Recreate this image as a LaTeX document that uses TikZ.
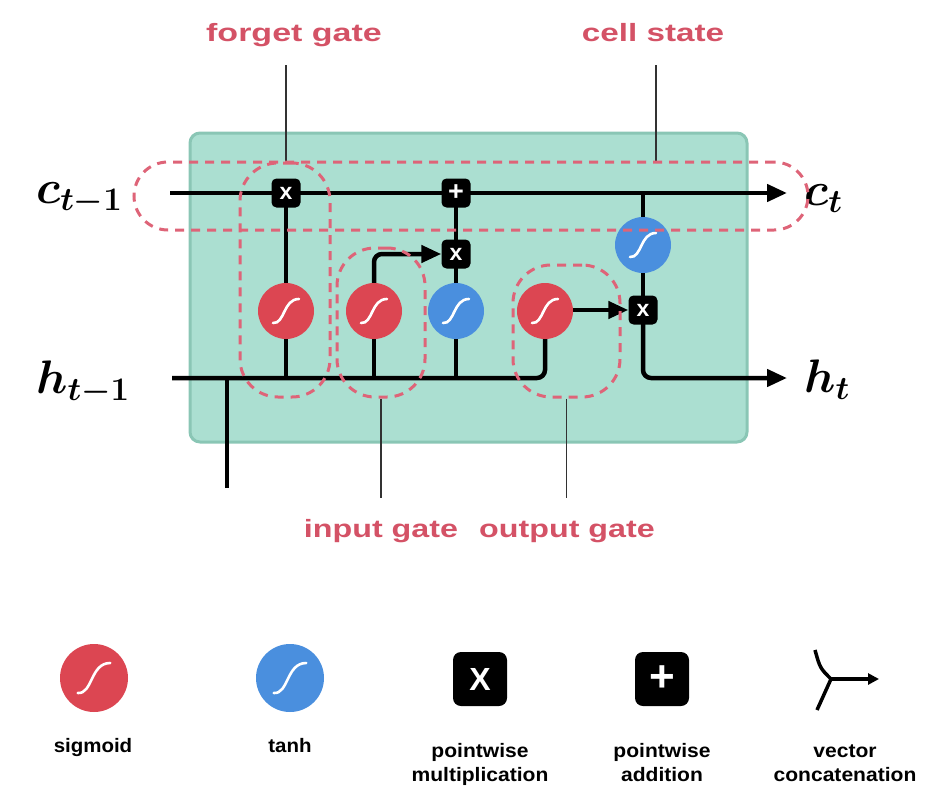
\RequirePackage{fix-cm}
\documentclass[tikz,border=0pt]{standalone}
\usepackage{fontspec}
\usepackage{bm}
\newfontfamily\labfont{Liberation Sans}
\usetikzlibrary{arrows.meta}
\definecolor{lstmfill}{RGB}{171,223,209}
\definecolor{lstmedge}{RGB}{138,198,181}
\definecolor{sigred}{RGB}{220,70,82}
\definecolor{tanblue}{RGB}{74,143,222}
\definecolor{gatered}{RGB}{222,100,120}
\definecolor{labred}{RGB}{212,82,102}
\definecolor{lblgray}{RGB}{50,50,50}
\pgfdeclarelayer{back}
\pgfdeclarelayer{wires}
\pgfdeclarelayer{top}
\pgfsetlayers{back,wires,main,top}
\begin{document}
\begin{tikzpicture}[x=1pt,y=-1pt,
  wire/.style={line width=4.5pt,black},
  arr/.style={-{Triangle[length=20pt,width=17pt]}},
  sig/.style={circle,fill=sigred,minimum size=56pt,inner sep=0pt},
  tnh/.style={circle,fill=tanblue,minimum size=56pt,inner sep=0pt},
  opbox/.style={rectangle,rounded corners=5pt,fill=black,minimum size=29pt,inner sep=0pt,
    text=white,font=\labfont\bfseries\fontsize{23}{23}\selectfont},
  bigop/.style={rectangle,rounded corners=8pt,fill=black,minimum size=54pt,inner sep=0pt,
    text=white,font=\labfont\bfseries\fontsize{32}{32}\selectfont},
  gatebox/.style={rectangle,draw=gatered,line width=3pt,dash pattern=on 9pt off 7pt,
    rounded corners=38pt,inner sep=0pt},
  lbl/.style={text=labred,font=\labfont\bfseries\fontsize{25}{30}\selectfont,inner sep=0pt,anchor=base},
  lblline/.style={line width=1.6pt,lblgray},
  leg/.style={font=\labfont\bfseries\fontsize{19.5}{23.5}\selectfont,inner sep=0pt,anchor=base},
  mathlbl/.style={font=\fontsize{47}{52}\selectfont,inner sep=0pt,anchor=base west},
  scurve/.pic={\draw[white,line width=2.6pt,line cap=round] (-13,12) .. controls (-1,13) and (-3,-12) .. (13,-12);}
]
\useasboundingbox (0,0) rectangle (940,800);

% LSTM cell box
\begin{pgfonlayer}{back}
\node[rectangle,rounded corners=10pt,fill=lstmfill,draw=lstmedge,line width=3pt,
  minimum width=557pt,minimum height=309pt] (cell) at (468.5,287.5) {};
\end{pgfonlayer}

% math labels
\node[mathlbl] (cin) at (36,203) {$\bm{c_{t-1}}$};
\node[mathlbl] (cout) at (804,205) {$\bm{c_{t}}$};
\node[mathlbl] (hin) at (36,393) {$\bm{h_{t-1}}$};
\node[mathlbl] (hout) at (804,392) {$\bm{h_{t}}$};

% operators
\node[opbox] (fx) at (286,193) {x};
\node[opbox] (pl) at (456,193) {\fontsize{27}{27}\selectfont +};
\node[opbox] (ix) at (456,254) {x};
\node[opbox] (ox) at (643,310) {x};

% activations
\node[sig] (fs) at (286,311) {};
\node[sig] (is) at (374,311) {};
\node[tnh] (it) at (456,311) {};
\node[sig] (os) at (545,311) {};
\node[tnh] (ot) at (643,245) {};
\foreach \n in {fs,is,it,os,ot} { \pic at (\n) {scurve}; }

% free ends
\coordinate (cstart) at (170,193);
\coordinate (cend) at (787,193);
\coordinate (hstart) at (172,378);
\coordinate (hend) at (787,378);
\coordinate (xin) at (227,488);

\begin{pgfonlayer}{wires}
\draw[wire,arr] (cstart) -- (cend);
\draw[wire,rounded corners=8pt] (hstart) -- (os.center |- hstart) -- (os.center);
\draw[wire] (xin) -- (xin |- hstart);
\draw[wire] (fs.center |- hstart) -- (fs.center) -- (fx.center);
\draw[wire] (is.center |- hstart) -- (is.center);
\draw[wire,arr,rounded corners=8pt] (is.center) |- (ix.west);
\draw[wire] (it.center |- hstart) -- (it.center) -- (ix.center) -- (pl.center);
\draw[wire,arr] (os.east |- ox) -- (ox.west);
\draw[wire] (ot.center |- cstart) -- (ot.center) -- (ox.center);
\draw[wire,arr,rounded corners=8pt] (ox.center) |- (hend);
\end{pgfonlayer}

% gate outlines
\begin{pgfonlayer}{top}
\node[gatebox,minimum width=674pt,minimum height=68pt,rounded corners=34pt] (cs) at (471,196) {};
\node[gatebox,minimum width=90pt,minimum height=234pt] (fg) at (285,280) {};
\node[gatebox,minimum width=88pt,minimum height=149pt] (ig) at (381,322.5) {};
\node[gatebox,minimum width=107pt,minimum height=132pt] (og) at (566.5,331) {};
\end{pgfonlayer}

% gate labels
\node[lbl] (fgl) at (294,42) {\scalebox{1.36}[1]{forget gate}};
\node[lbl] (csl) at (653,42) {\scalebox{1.33}[1]{cell state}};
\node[lbl] (igl) at (381,537) {\scalebox{1.29}[1]{input gate}};
\node[lbl] (ogl) at (567,537) {\scalebox{1.29}[1]{output gate}};
\draw[lblline] (fg.north -| fx) -- (fx |- 0,65);
\draw[lblline] (cs.north -| 656,0) -- (656,65);
\draw[lblline] (ig.south) -- (ig.south |- 0,498);
\draw[lblline] (og.south) -- (og.south |- 0,498);

% legend
\node[sig,minimum size=68pt] (lsig) at (94,678) {};
\pic[scale=1.25] at (lsig) {scurve};
\node[tnh,minimum size=68pt] (ltanh) at (290,678) {};
\pic[scale=1.25] at (ltanh) {scurve};
\node[bigop] (lmul) at (480,679) {X};
\node[bigop] (ladd) at (662,679) {\fontsize{44}{44}\selectfont +};
\coordinate (cj) at (831,679);
\coordinate (ca) at (815,650);
\coordinate (cb) at (817,710);
\coordinate (ce) at (879,679);
\draw[line width=3.5pt] (ca) .. controls (820,668) .. (cj);
\draw[line width=3.5pt] (cb) -- (cj);
\draw[line width=3.5pt,-{Triangle[length=11pt,width=11pt]}] (cj) -- (ce);

\node[leg] (tsig) at (93,752) {\scalebox{1.05}[1]{sigmoid}};
\node[leg] (ttanh) at (290,752) {\scalebox{1.05}[1]{tanh}};
\node[leg] (tmul) at (480,781) {\scalebox{1.08}[1]{\begin{tabular}[b]{@{}c@{}}pointwise\\multiplication\end{tabular}}};
\node[leg] (tadd) at (662,781) {\scalebox{1.08}[1]{\begin{tabular}[b]{@{}c@{}}pointwise\\addition\end{tabular}}};
\node[leg] (tcat) at (845,781) {\scalebox{1.08}[1]{\begin{tabular}[b]{@{}c@{}}vector\\concatenation\end{tabular}}};
\end{tikzpicture}
\end{document}
